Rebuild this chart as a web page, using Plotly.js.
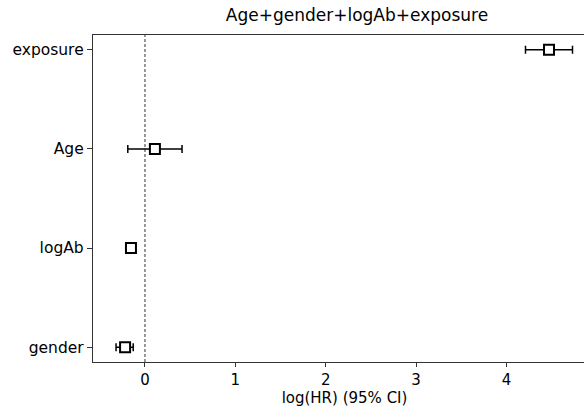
<!DOCTYPE html>
<html><head><meta charset="utf-8">
<script src="https://cdn.plot.ly/plotly-3.0.1.min.js"></script>
<style>html,body{margin:0;padding:0;background:#fff;overflow:hidden}#c{width:596px;height:409px}</style>
</head><body><div id="c"></div>
<script>
const covariates = ["gender", "logAb", "Age", "exposure"];
const coef = [-0.22, -0.155, 0.11, 4.47];
const ciLower = [-0.32, -0.185, -0.19, 4.21];
const ciUpper = [-0.13, -0.125, 0.41, 4.73];
const xTicks = [0, 1, 2, 3, 4];
const yPos = covariates.map((_, i) => i);

const trace = {
  type: "scatter", mode: "markers",
  x: coef, y: yPos,
  marker: {symbol: "square", size: 10, color: "#fff", line: {width: 2, color: "#000"}},
  error_x: {type: "data", symmetric: false,
    array: ciUpper.map((u, i) => u - coef[i]),
    arrayminus: coef.map((c, i) => c - ciLower[i]),
    color: "#000", thickness: 1.5, width: 4},
  hoverinfo: "skip"
};

const layout = {
  width: 596, height: 409,
  margin: {l: 93, r: 0, t: 35, b: 47},
  paper_bgcolor: "#fff", plot_bgcolor: "#fff",
  font: {family: "DejaVu Sans, sans-serif", size: 15, color: "#000"},
  showlegend: false,
  title: {text: "Age+gender+logAb+exposure", x: 0.599, xanchor: "center", y: 0.977, yanchor: "top",
    font: {size: 17, color: "#000"}},
  xaxis: {range: [-0.575, 4.99], tickvals: xTicks, ticktext: xTicks.map(String),
    showgrid: false, zeroline: false, showline: true, linecolor: "#333", linewidth: 1.2,
    mirror: true, ticks: "outside", ticklen: 4, tickcolor: "#333",
    tickfont: {size: 15}, title: {text: "log(HR) (95% CI)", font: {size: 15}, standoff: 2}},
  yaxis: {range: [-0.15, 3.15], tickvals: yPos, ticktext: covariates,
    showgrid: false, zeroline: false, showline: true, linecolor: "#333", linewidth: 1.2,
    ticks: "outside", ticklen: 5, tickcolor: "#333", tickfont: {size: 15.5}},
  shapes: [{type: "line", xref: "x", yref: "paper", x0: 0, x1: 0, y0: 0, y1: 1, layer: "below",
    line: {color: "#333", width: 1, dash: "3px,2px"}}]
};

Plotly.newPlot("c", [trace], layout, {displayModeBar: false, staticPlot: true});
</script></body></html>
